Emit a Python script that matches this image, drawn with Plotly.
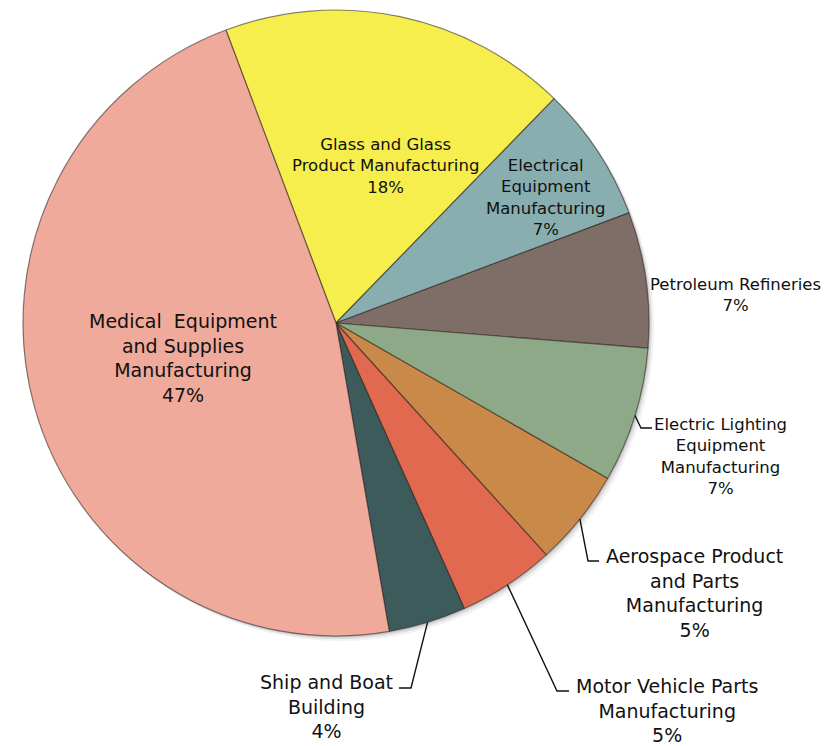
import math
import plotly.graph_objects as go

# Share of establishments by industry (percent)
industries = [
    "Glass and Glass<br>Product Manufacturing",
    "Electrical<br>Equipment<br>Manufacturing",
    "Petroleum Refineries",
    "Electric Lighting<br>Equipment<br>Manufacturing",
    "Aerospace Product<br>and Parts<br>Manufacturing",
    "Motor Vehicle Parts<br>Manufacturing",
    "Ship and Boat<br>Building",
    "Medical  Equipment<br>and Supplies<br>Manufacturing",
]
shares = [18, 7, 7, 7, 5, 5, 4, 47]
colors = ["#F6EE4C", "#88AEAF", "#7E6E67", "#8EA987", "#C98A49",
          "#E0694F", "#3E5B5B", "#EFAA9B"]

W, H = 836, 746
CX, CY, R = 336, 323, 313          # pie centre and radius in pixels
START = -20.6                       # angle (deg, clockwise from 12 o'clock) of first slice

def px(x):
    return x / W

def py(y):
    return 1 - y / H

fig = go.Figure()

# soft drop shadow behind the pie
for off, alpha in ((5, 0.05), (3, 0.08), (1.5, 0.10)):
    fig.add_shape(type="circle", xref="paper", yref="paper", layer="below",
                  x0=px(CX - R + off), x1=px(CX + R + off),
                  y0=py(CY + R + off), y1=py(CY - R + off),
                  line=dict(width=0), fillcolor=f"rgba(0,0,0,{alpha})")

fig.add_trace(go.Pie(
    labels=[l.replace("<br>", " ") for l in industries],
    values=shares,
    sort=False,
    direction="clockwise",
    rotation=START,
    marker=dict(colors=colors, line=dict(color="rgba(40,30,30,0.55)", width=1.2)),
    textinfo="none",
    hoverinfo="label+percent",
    showlegend=False,
    domain=dict(x=[px(CX - R), px(CX + R)], y=[py(CY + R), py(CY - R)]),
))

# label block centres (pixels) and font sizes
label_pos = [(385, 166), (545, 198), (735, 295), (720, 456),
             (694, 593), (667, 710), (326, 706), (183, 358)]
label_size = [16.5, 16.5, 16.5, 16.5, 19, 19, 19, 19]

for name, val, (lx, ly), fs in zip(industries, shares, label_pos, label_size):
    fig.add_annotation(
        x=px(lx), y=py(ly), xref="paper", yref="paper",
        text=f"{name}<br>{val}%", showarrow=False,
        xanchor="center", yanchor="middle", align="center",
        font=dict(family="DejaVu Sans", size=fs, color="#111111"),
    )

# leader lines for the outside labels: start on the slice edge at mid-angle
total = sum(shares)
cum = 0
mids = []
for v in shares:
    mids.append(START + (cum + v / 2) / total * 360)
    cum += v

leader_ends = {  # slice index -> (elbow, end) in pixels
    3: ((641, 428), (652, 428)),
    4: ((588, 561), (599, 561)),
    5: ((557, 691), (569, 691)),
    6: ((411, 688), (399, 688)),
}
for i, (elbow, end) in leader_ends.items():
    a = math.radians(mids[i])
    sx = CX + R * math.sin(a)
    sy = CY - R * math.cos(a)
    path = (f"M {px(sx)},{py(sy)} L {px(elbow[0])},{py(elbow[1])} "
            f"L {px(end[0])},{py(end[1])}")
    fig.add_shape(type="path", path=path, xref="paper", yref="paper",
                  line=dict(color="#111111", width=1.4))

fig.update_layout(
    width=W, height=H,
    margin=dict(l=0, r=0, t=0, b=0),
    paper_bgcolor="white", plot_bgcolor="white",
)
fig.write_html("out.html")
